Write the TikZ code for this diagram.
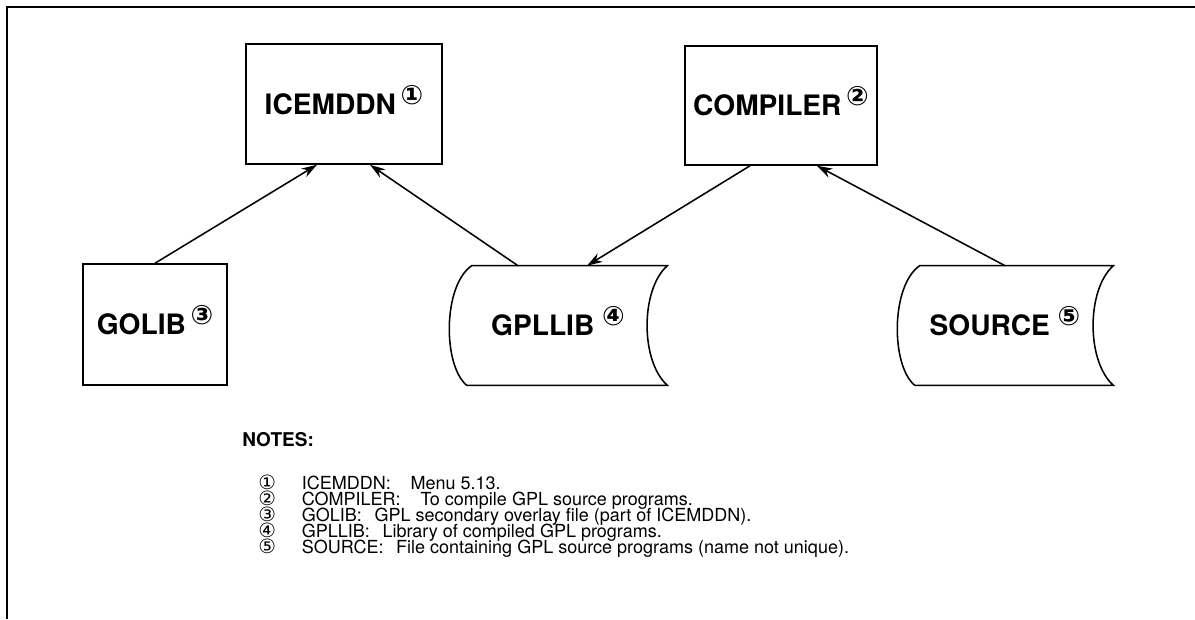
\documentclass[tikz,border=0pt]{standalone}
\usepackage{fontspec}
\setmainfont{TeX Gyre Heros}
\newfontfamily\circfont{DejaVu Sans}
\usetikzlibrary{arrows.meta,calc}

% circled reference numbers
\newcommand{\labnum}[1]{\smash{\raisebox{7pt}{\fontsize{19}{19}\circfont #1}}}
\newcommand{\notenum}[1]{\makebox[31pt][l]{\fontsize{14}{14}\circfont #1}}
% outline of a stored-data file
\newcommand{\drawstore}[1]{%
  \draw[line width=1.1pt] ($(#1.north west)+(23,0)$) -- (#1.north east)
    .. controls +(-27,24) and +(-27,-24) .. (#1.south east)
    -- ($(#1.south west)+(18,0)$)
    .. controls +(-24,-20) and +(-29,20) .. ($(#1.north west)+(23,0)$) -- cycle;}

\begin{document}
\begin{tikzpicture}[x=0.025cm,y=-0.025cm,
  box/.style={draw,line width=1.1pt,inner sep=0pt,font=\fontsize{20}{24}\selectfont\bfseries},
  store/.style={inner sep=0pt,minimum height=2.975cm,font=\fontsize{20}{24}\selectfont\bfseries},
  flow/.style={-{Stealth[length=11pt,width=7pt]},line width=1.1pt},
  note/.style={anchor=base west,inner sep=0pt,font=\fontsize{12.8}{15}\selectfont}]
  \useasboundingbox (0,0) rectangle (1195,619);
  \draw[line width=1.1pt] (7,619) -- (7,7) -- (1195,7);

  \node[box,minimum width=4.9cm,minimum height=3cm] (icemddn) at (344,104) {ICEMDDN\,\labnum{①}};
  \node[box,minimum width=4.8cm,minimum height=2.975cm] (compiler) at (781,105.5) {COMPILER\,\labnum{②}};
  \node[box,minimum width=3.6cm,minimum height=3.025cm] (golib) at (155,324.5) {GOLIB\,\labnum{③}};
  \node[store,minimum width=5.45cm] (gpllib) at (558,325.5) {GPLLIB \labnum{④}};
  \node[store,minimum width=5.4cm] (source) at (1005,325.5) {SOURCE \labnum{⑤}};
  \drawstore{gpllib}
  \drawstore{source}

  \draw[flow] (golib.north) -- ($(icemddn.south)+(-27,0)$);
  \draw[flow] ($(gpllib.north)+(-40,0)$) -- ($(icemddn.south)+(26,0)$);
  \draw[flow] ($(compiler.south)+(-31,0)$) -- ($(gpllib.north)+(29,0)$);
  \draw[flow] (source.north) -- ($(compiler.south)+(36,0)$);

  \node[anchor=base west,inner sep=0pt,font=\fontsize{13.5}{15}\selectfont\bfseries] (notes) at (242,446) {NOTES:};
  \node[note] (n1) at (258,489) {\notenum{①}ICEMDDN:\hspace{1.1em}Menu 5.13.};
  \node[note] (n2) at (258,505) {\notenum{②}COMPILER:\hspace{1.1em}To compile GPL source programs.};
  \node[note] (n3) at (258,521) {\notenum{③}GOLIB:\hspace{0.7em}GPL secondary overlay file (part of ICEMDDN).};
  \node[note] (n4) at (258,537) {\notenum{④}GPLLIB:\hspace{0.7em}Library of compiled GPL programs.};
  \node[note] (n5) at (258,553) {\notenum{⑤}SOURCE:\hspace{0.7em}File containing GPL source programs (name not unique).};
\end{tikzpicture}
\end{document}
